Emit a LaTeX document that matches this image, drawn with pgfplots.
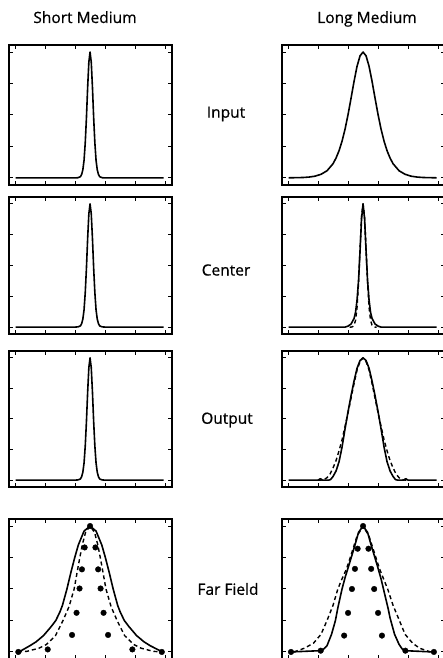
\documentclass[border=0pt]{standalone}
\usepackage{pgfplots}
\pgfplotsset{compat=1.18}
\usepackage{fontspec}
\setmainfont{Open Sans}[FakeBold=0.6]
\pgfplotsset{panel/.style={scale only axis, width=163bp,
  xmin=-2.7, xmax=2.73, ymin=-0.056, ymax=1.056,
  xtick={-2.5,-1.5,-0.5,0.5,1.5,2.5}, ytick={0,0.25,0.5,0.75,1},
  xticklabels={}, yticklabels={}, tick pos=both, tick align=inside,
  major tick length=4bp,
  axis line style={line width=1.3bp},
  every tick/.style={black, line width=1bp},
  anchor=south west},
  curve/.style={black, line width=1.6bp, line join=round, no markers},
  dcurve/.style={black, line width=1.4bp, line join=round, no markers, dash pattern=on 4bp off 3bp},
  dots/.style={only marks, mark=*, mark size=2.8bp, black}}
\pgfplotstableread{
d y
-2.48 0
-0.5 0
-0.4 0.002
-0.32 0.01
-0.28 0.028
-0.24 0.065
-0.2 0.14
-0.16 0.28
-0.12 0.48
-0.08 0.72
-0.04 0.92
0 1
0.04 0.92
0.08 0.72
0.12 0.48
0.16 0.28
0.2 0.14
0.24 0.065
0.28 0.028
0.32 0.01
0.4 0.002
0.5 0
2.45 0
}\shortpeak
\pgfplotstableread{
d y
-2.48 0.001
-2.0 0.0035
-1.8 0.007
-1.6 0.014
-1.4 0.029
-1.2 0.057
-1.0 0.113
-0.9 0.158
-0.8 0.216
-0.7 0.292
-0.6 0.387
-0.5 0.503
-0.4 0.633
-0.3 0.767
-0.2 0.887
-0.1 0.970
0 1
0.1 0.970
0.2 0.887
0.3 0.767
0.4 0.633
0.5 0.503
0.6 0.387
0.7 0.292
0.8 0.216
0.9 0.158
1.0 0.113
1.2 0.057
1.4 0.029
1.6 0.014
1.8 0.007
2.0 0.0035
2.45 0.001
}\longinput
\pgfplotstableread{
d y
-2.48 0
-0.6 0
-0.5 0.008
-0.4 0.025
-0.3 0.07
-0.25 0.12
-0.2 0.22
-0.15 0.38
-0.1 0.62
-0.05 0.88
0 1
0.05 0.88
0.1 0.62
0.15 0.38
0.2 0.22
0.25 0.12
0.3 0.07
0.4 0.025
0.5 0.008
0.6 0
2.45 0
}\longcenters
\pgfplotstableread{
d y
-0.45 0
-0.4 0
-0.35 0.003
-0.3 0.015
-0.25 0.055
-0.2 0.16
-0.15 0.36
-0.1 0.64
-0.05 0.9
0 1
0.05 0.9
0.1 0.64
0.15 0.36
0.2 0.16
0.25 0.055
0.3 0.015
0.35 0.003
0.4 0
0.45 0
}\longcenterd
\pgfplotstableread{
d y
-2.48 0
-1.5 0
-1.42 0.012
-1.35 0
-1.15 0
-1.08 0.005
-1.0 0.03
-0.9 0.075
-0.8 0.15
-0.7 0.27
-0.6 0.42
-0.5 0.56
-0.4 0.69
-0.3 0.81
-0.2 0.915
-0.1 0.978
0 1
0.1 0.978
0.2 0.915
0.3 0.81
0.4 0.69
0.5 0.56
0.6 0.42
0.7 0.27
0.8 0.15
0.9 0.075
1.0 0.03
1.08 0.005
1.15 0
1.35 0
1.42 0.012
1.5 0
2.45 0
}\longoutputs
\pgfplotstableread{
d y
-1.5 0
-1.4 0
-1.3 0.005
-1.2 0.02
-1.1 0.05
-1.0 0.1
-0.9 0.16
-0.8 0.24
-0.7 0.33
-0.6 0.44
-0.5 0.55
-0.4 0.67
-0.3 0.79
-0.2 0.9
-0.1 0.97
0 1
0.1 0.97
0.2 0.9
0.3 0.79
0.4 0.67
0.5 0.55
0.6 0.44
0.7 0.33
0.8 0.24
0.9 0.16
1.0 0.1
1.1 0.05
1.2 0.02
1.3 0.005
1.4 0
1.5 0
}\longoutputd
\pgfplotstableread{
d y
-2.37 0
-2.0 0.05
-1.8 0.08
-1.55 0.13
-1.3 0.2
-1.14 0.25
-1.0 0.32
-0.92 0.37
-0.77 0.5
-0.64 0.63
-0.51 0.75
-0.39 0.85
-0.2 0.96
0 1
0.2 0.96
0.39 0.85
0.51 0.75
0.64 0.63
0.77 0.5
0.92 0.37
1.0 0.32
1.14 0.25
1.3 0.2
1.55 0.13
1.8 0.08
2.0 0.05
2.41 0
}\leftffs
\pgfplotstableread{
d y
-2.4 0
-2.1 0.005
-1.7 0.03
-1.45 0.06
-1.15 0.13
-0.9 0.25
-0.7 0.36
-0.53 0.5
-0.38 0.7
-0.26 0.85
-0.15 0.95
0 1
0.15 0.95
0.26 0.85
0.38 0.7
0.53 0.5
0.7 0.36
0.9 0.25
1.15 0.13
1.45 0.06
1.7 0.03
2.1 0.005
2.4 0
}\leftffd
\pgfplotstableread{
d y
0 1
-0.18 0.83
0.18 0.83
-0.27 0.656
0.27 0.656
-0.35 0.504
0.35 0.504
-0.45 0.311
0.45 0.311
-0.6 0.135
0.6 0.135
-1.41 0.02
1.41 0.02
-2.39 0
2.39 0
}\leftdots
\pgfplotstableread{
d y
-2.43 0
-1.43 0.01
-1.3 0.025
-1.2 0.05
-1.05 0.14
-0.92 0.25
-0.84 0.35
-0.7 0.5
-0.6 0.59
-0.47 0.69
-0.28 0.84
-0.15 0.95
0 1
0.15 0.95
0.28 0.84
0.47 0.69
0.6 0.58
0.68 0.5
0.84 0.34
0.9 0.27
1.05 0.14
1.2 0.06
1.3 0.025
1.4 0.01
2.34 0
}\rightffs
\pgfplotstableread{
d y
-2.3 0
-1.95 0.03
-1.65 0.07
-1.4 0.14
-1.2 0.25
-1.0 0.37
-0.84 0.5
-0.72 0.57
-0.55 0.66
-0.4 0.77
-0.2 0.92
0 1
0.2 0.92
0.4 0.77
0.55 0.66
0.7 0.57
0.82 0.5
1.0 0.37
1.21 0.25
1.4 0.14
1.65 0.07
1.88 0.03
2.24 0
}\rightffd
\pgfplotstableread{
d y
0 1
-0.18 0.82
0.18 0.82
-0.27 0.66
0.27 0.66
-0.37 0.5
0.37 0.5
-0.5 0.31
0.5 0.31
-0.63 0.13
0.63 0.13
-1.41 0.01
1.41 0.01
-2.4 0
2.36 0
}\rightdots
\begin{document}
\begin{tikzpicture}
\path[use as bounding box] (0bp,0bp) rectangle (443bp,658bp);
\clip (0bp,0bp) rectangle (443bp,658bp);
\tikzset{lab/.style={font=\fontsize{15.5bp}{18bp}\selectfont, inner sep=0pt}}
\node[lab, anchor=base] at (85bp,635bp) {Short Medium};
\node[lab, anchor=base] at (367bp,635bp) {Long Medium};
\node[lab] at (226bp,544bp) {Input};
\node[lab] at (226bp,388bp) {Center};
\node[lab] at (227bp,238bp) {Output};
\node[lab] at (228bp,69bp) {Far Field};
% Row 1
\begin{axis}[panel, height=140bp, at={(9bp,473bp)}]
\addplot[curve] table[x=d,y=y] {\shortpeak};
\end{axis}
\begin{axis}[panel, height=140bp, at={(282bp,473bp)}]
\addplot[curve] table[x=d,y=y] {\longinput};
\end{axis}
% Row 2
\begin{axis}[panel, height=137bp, at={(9bp,324bp)}]
\addplot[curve] table[x=d,y=y] {\shortpeak};
\end{axis}
\begin{axis}[panel, height=137bp, at={(282bp,324bp)}]
\addplot[dcurve] table[x=d,y=y] {\longcenterd};
\addplot[curve] table[x=d,y=y] {\longcenters};
\end{axis}
% Row 3
\begin{axis}[panel, height=136bp, at={(9bp,171bp)}]
\addplot[curve] table[x=d,y=y] {\shortpeak};
\end{axis}
\begin{axis}[panel, height=136bp, at={(282bp,171bp)}]
\addplot[dcurve] table[x=d,y=y] {\longoutputd};
\addplot[curve] table[x=d,y=y] {\longoutputs};
\end{axis}
% Row 4
\begin{axis}[panel, height=140bp, at={(9bp,-1bp)}]
\addplot[dcurve] table[x=d,y=y] {\leftffd};
\addplot[curve] table[x=d,y=y] {\leftffs};
\addplot[dots] table[x=d,y=y] {\leftdots};
\end{axis}
\begin{axis}[panel, height=140bp, at={(282bp,-1bp)}]
\addplot[dcurve] table[x=d,y=y] {\rightffd};
\addplot[curve] table[x=d,y=y] {\rightffs};
\addplot[dots] table[x=d,y=y] {\rightdots};
\end{axis}
\end{tikzpicture}
\end{document}
